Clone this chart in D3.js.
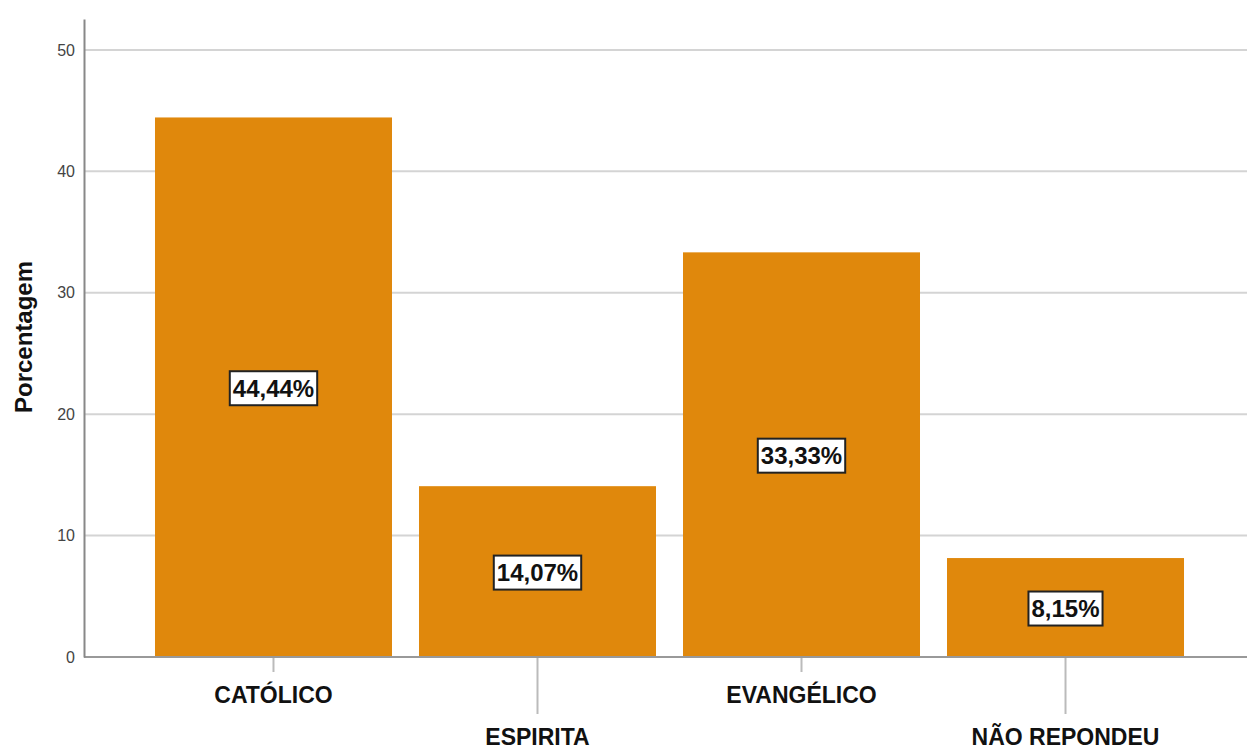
<!DOCTYPE html>
<html>
<head>
<meta charset="utf-8">
<script src="https://cdn.jsdelivr.net/npm/d3@7"></script>
<style>
  body { margin: 0; background: #fff; }
  svg { display: block; font-family: "Liberation Sans", Arial, sans-serif; }
  .grid line { stroke: #d4d4d4; stroke-width: 2; }
  .yaxis text { fill: #444; font-size: 16px; }
  .xlab { font-size: 23px; font-weight: bold; fill: #111; }
  .vlab { font-size: 24px; font-weight: bold; fill: #111; }
</style>
</head>
<body>
<div id="chart"></div>
<script>
(function(){

var categories = ["CATÓLICO", "ESPIRITA", "EVANGÉLICO", "NÃO REPONDEU"];
var values = [44.44, 14.07, 33.33, 8.15];
var labels = ["44,44%", "14,07%", "33,33%", "8,15%"];
var yTicks = [0, 10, 20, 30, 40, 50];

var width = 1247, height = 749;
var left = 84, right = 1247, bottom = 657, top = 19;

var svg = d3.select("#chart").append("svg")
    .attr("width", width)
    .attr("height", height);

var y = d3.scaleLinear().domain([0, 52.55]).range([bottom, top]);
var x = d3.scaleBand().domain(categories)
    .range([141.5, 1197.5])
    .paddingInner(0.1023)
    .paddingOuter(0.0511);

// gridlines
svg.append("g").attr("class", "grid")
  .selectAll("line")
  .data(yTicks.filter(function(d) { return d > 0; }))
  .enter().append("line")
    .attr("x1", left).attr("x2", right)
    .attr("y1", function(d) { return y(d); })
    .attr("y2", function(d) { return y(d); });

// bars
svg.append("g").selectAll("rect")
  .data(values)
  .enter().append("rect")
    .attr("x", function(d, i) { return x(categories[i]); })
    .attr("y", function(d) { return y(d); })
    .attr("width", x.bandwidth())
    .attr("height", function(d) { return bottom - y(d); })
    .attr("fill", "#e0880c");

// x ticks, alternate short / long
svg.append("g").selectAll("line")
  .data(categories)
  .enter().append("line")
    .attr("x1", function(d) { return x(d) + x.bandwidth() / 2; })
    .attr("x2", function(d) { return x(d) + x.bandwidth() / 2; })
    .attr("y1", bottom)
    .attr("y2", function(d, i) { return i % 2 ? 714 : 672; })
    .attr("stroke", "#bbb")
    .attr("stroke-width", 2);

svg.append("g").selectAll("text")
  .data(categories)
  .enter().append("text")
    .attr("class", "xlab")
    .attr("x", function(d) { return x(d) + x.bandwidth() / 2; })
    .attr("y", function(d, i) { return i % 2 ? 737 : 695; })
    .attr("dy", "0.35em")
    .attr("text-anchor", "middle")
    .text(function(d) { return d; });

// baseline
svg.append("line")
    .attr("x1", left).attr("x2", right)
    .attr("y1", bottom).attr("y2", bottom)
    .attr("stroke", "#999").attr("stroke-width", 2);

// y axis
var yAxis = d3.axisLeft(y).tickValues(yTicks).tickSize(0).tickPadding(9);
var ya = svg.append("g").attr("class", "yaxis")
    .attr("transform", "translate(" + left + ",0)")
    .call(yAxis);
ya.select(".domain").attr("stroke", "#888").attr("stroke-width", 2);

svg.append("text")
    .attr("transform", "translate(24," + 337 + ") rotate(-90)")
    .attr("text-anchor", "middle")
    .attr("dy", "0.35em")
    .style("font-size", "24px")
    .style("font-weight", "bold")
    .style("fill", "#111")
    .text("Porcentagem");

// value labels
var vl = svg.append("g").selectAll("g")
  .data(values)
  .enter().append("g")
    .attr("transform", function(d, i) {
      return "translate(" + (x(categories[i]) + x.bandwidth() / 2) + "," + ((y(d) + bottom) / 2 + 1) + ")";
    });

vl.append("text")
    .attr("class", "vlab")
    .attr("text-anchor", "middle")
    .attr("dy", "0.36em")
    .text(function(d, i) { return labels[i]; });

vl.each(function() {
  var g = d3.select(this);
  var bb = g.select("text").node().getBBox();
  g.insert("rect", "text")
    .attr("x", bb.x - 3).attr("y", -17)
    .attr("width", bb.width + 6).attr("height", 34)
    .attr("fill", "#fff")
    .attr("stroke", "#222")
    .attr("stroke-width", 2);
});

})();
</script>
</body>
</html>
